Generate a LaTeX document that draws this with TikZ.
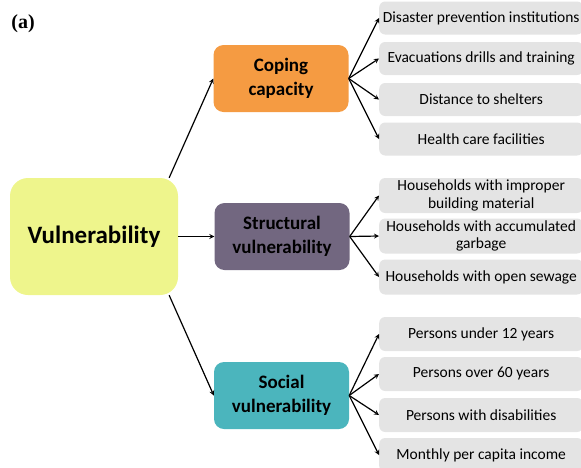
\documentclass[tikz,border=0pt]{standalone}
\usepackage{fontspec}
\setmainfont{Carlito}
\newfontfamily\timesfont{Liberation Serif}
\usetikzlibrary{arrows}

\definecolor{vulyellow}{HTML}{EEF58C}
\definecolor{copeorange}{HTML}{F59B42}
\definecolor{structpurple}{HTML}{726780}
\definecolor{socialteal}{HTML}{4BB5BD}
\definecolor{leafgrey}{HTML}{E4E4E4}

\begin{document}
\begin{tikzpicture}
[x=1pt,y=-1pt,>=stealth,
 main/.style={rounded corners=18pt,fill=vulyellow,minimum width=168pt,minimum height=117pt,font=\fontsize{25}{29}\selectfont\bfseries},
 mid/.style={rounded corners=10pt,minimum width=135pt,minimum height=67pt,align=center,font=\fontsize{19}{24}\selectfont\bfseries},
 leaf/.style={rounded corners=6pt,fill=leafgrey,minimum width=204pt,minimum height=33pt,anchor=west,align=center,inner sep=1pt,font=\fontsize{15.5}{17.5}\selectfont},
 arr/.style={->,line width=1.2pt}]

\useasboundingbox (0,0) rectangle (581,467);
\clip (0,0) rectangle (581,467);

\node (lab) at (23,24) {\timesfont\fontsize{20}{22}\selectfont\bfseries (a)};

\node[main] (V) at (94,236.5) {Vulnerability};

\node[mid,fill=copeorange] (C) at (281,78.5) {Coping\\capacity};
\node[mid,fill=structpurple] (S) at (282,236.5) {Structural\\vulnerability};
\node[mid,fill=socialteal] (P) at (281.5,395.5) {Social\\vulnerability};

\draw [arr] (V.38) -- (C.west);
\draw [arr] (V.east) -- (S.west);
\draw [arr] (V.-38) -- (P.west);

% coping capacity
\node[leaf] (c1) at (379,18) {Disaster prevention institutions};
\node[leaf] (c2) at (379,58.5) {Evacuations drills and training};
\node[leaf] (c3) at (379,99.5) {Distance to shelters};
\node[leaf] (c4) at (379,139) {Health care facilities};

\draw [arr] (C.east) -- (c1.west);
\draw [arr] (C.east) -- (c2.west);
\draw [arr] (C.east) -- (c3.west);
\draw [arr] (C.east) -- (c4.west);

% structural vulnerability
\node[leaf,minimum height=35pt] (s1) at (379,195.5) {Households with improper\\building material};
\node[leaf,minimum height=35pt] (s2) at (379,236) {Households with accumulated\\garbage};
\node[leaf,minimum height=35pt] (s3) at (379,277) {Households with open sewage};

\draw [arr] (S.east) -- (s1.west);
\draw [arr] (S.east) -- (s2.west);
\draw [arr] (S.east) -- (s3.west);

% social vulnerability
\node[leaf,minimum height=34pt] (p1) at (379,334) {Persons under 12 years};
\node[leaf,minimum height=34pt] (p2) at (379,374) {Persons over 60 years};
\node[leaf,minimum height=34pt] (p3) at (379,415) {Persons with disabilities};
\node[leaf,minimum height=34pt] (p4) at (379,455) {Monthly per capita income};

\draw [arr] (P.east) -- (p1.west);
\draw [arr] (P.east) -- (p2.west);
\draw [arr] (P.east) -- (p3.west);
\draw [arr] (P.east) -- (p4.west);
\end{tikzpicture}
\end{document}
